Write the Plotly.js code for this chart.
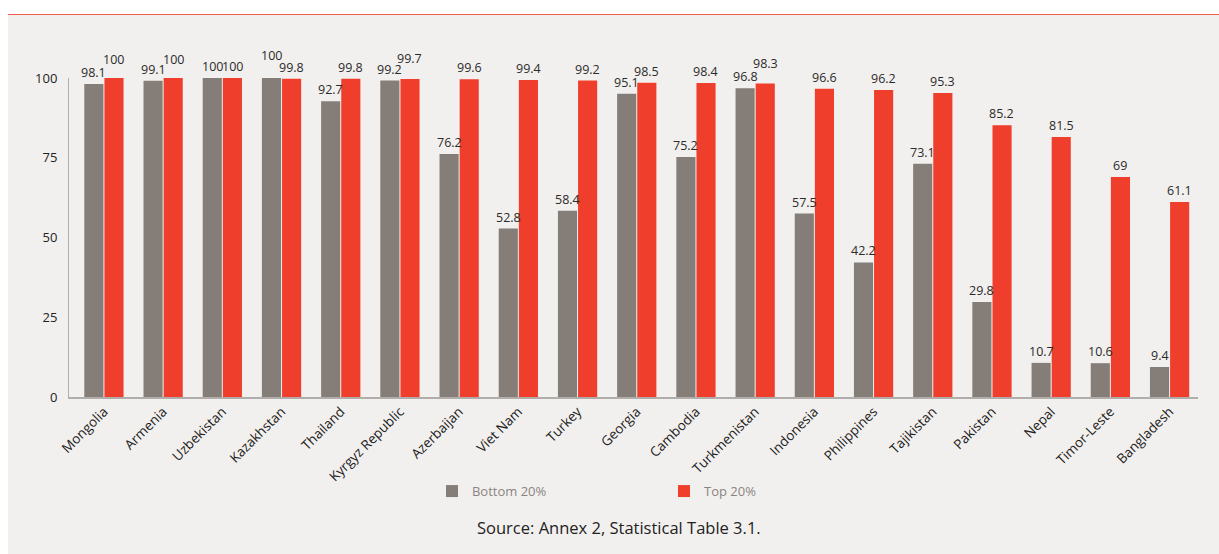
<!DOCTYPE html>
<html>
<head>
<meta charset="utf-8">
<script src="https://cdn.plot.ly/plotly-3.0.1.min.js"></script>
<style>
html,body{margin:0;padding:0;background:#ffffff;width:1219px;height:554px;overflow:hidden;}
#panel{position:absolute;left:8px;top:14px;width:1211px;height:540px;background:#f2f0ee;border-top:1.5px solid #f0604f;box-sizing:border-box;}
#chart{position:absolute;left:0;top:0;width:1219px;height:554px;}
</style>
</head>
<body>
<div id="panel"></div>
<div id="chart"></div>
<script>
const countries = ["Mongolia","Armenia","Uzbekistan","Kazakhstan","Thailand","Kyrgyz Republic","Azerbaijan","Viet Nam","Turkey","Georgia","Cambodia","Turkmenistan","Indonesia","Philippines","Tajikistan","Pakistan","Nepal","Timor-Leste","Bangladesh"];
const bottom20 = [98.1,99.1,100,100,92.7,99.2,76.2,52.8,58.4,95.1,75.2,96.8,57.5,42.2,73.1,29.8,10.7,10.6,9.4];
const top20 = [100,100,100,99.8,99.8,99.7,99.6,99.4,99.2,98.5,98.4,98.3,96.6,96.2,95.3,85.2,81.5,69,61.1];
const yTicks = [0,25,50,75,100];

const font = "'Open Sans', 'Noto Sans', sans-serif";

// label placement tweaks (styling only): extra lift in px for crowded labels
const liftBottom = {3:11};
const liftTop = {0:7, 1:7, 5:9, 11:8};

const traces = [
  {type:'bar', name:'Bottom 20%', x:countries, y:bottom20, marker:{color:'#857d78'}, hoverinfo:'skip'},
  {type:'bar', name:'Top 20%', x:countries, y:top20, marker:{color:'#ef3e2b'}, hoverinfo:'skip'}
];

const labelFont = {family:font,size:12.5,color:'#2b2b2b'};
const annotations = [];
countries.forEach((c,i)=>{
  annotations.push({x:c, y:bottom20[i], text:String(bottom20[i]), xref:'x', yref:'y',
    xshift:-10, yshift:1+(liftBottom[i]||0), yanchor:'bottom', xanchor:'center', showarrow:false, font:labelFont});
  annotations.push({x:c, y:top20[i], text:String(top20[i]), xref:'x', yref:'y',
    xshift:10, yshift:1+(liftTop[i]||0), yanchor:'bottom', xanchor:'center', showarrow:false, font:labelFont});
});
annotations.push({
  text:'Source: Annex 2, Statistical Table 3.1.',
  xref:'paper', yref:'paper',
  x:0.487, y:-0.408, xanchor:'center', yanchor:'middle',
  showarrow:false,
  font:{family:font,size:16.5,color:'#222222'}
});

const layout = {
  width:1219, height:554,
  paper_bgcolor:'rgba(0,0,0,0)',
  plot_bgcolor:'rgba(0,0,0,0)',
  margin:{l:69,r:21,t:78,b:157},
  barmode:'group',
  bargap:0.32,
  bargroupgap:0.05,
  font:{family:font,color:'#2b2b2b',size:13},
  xaxis:{
    range:[-0.59,18.48],
    tickangle:-45,
    showline:true, linecolor:'#b0adab', linewidth:1.5,
    showgrid:false, ticks:'', zeroline:false,
    tickfont:{family:font,size:13.5,color:'#222222'}
  },
  yaxis:{
    range:[0,100],
    tickvals:yTicks,
    ticktext:yTicks.map(String),
    showline:true, linecolor:'#b0adab', linewidth:1,
    showgrid:false, ticks:'', zeroline:false,
    ticklabelstandoff:8,
    tickfont:{family:font,size:13,color:'#222222'}
  },
  showlegend:true,
  legend:{
    orientation:'h',
    x:0.3215, xanchor:'left',
    y:-0.295, yanchor:'middle',
    entrywidth:187, entrywidthmode:'pixels',
    font:{family:font,size:13,color:'#8a8480'},
    bgcolor:'rgba(0,0,0,0)',
    traceorder:'normal'
  },
  annotations:annotations
};
Plotly.newPlot('chart', traces, layout, {displayModeBar:false, staticPlot:true});
</script>
</body>
</html>
